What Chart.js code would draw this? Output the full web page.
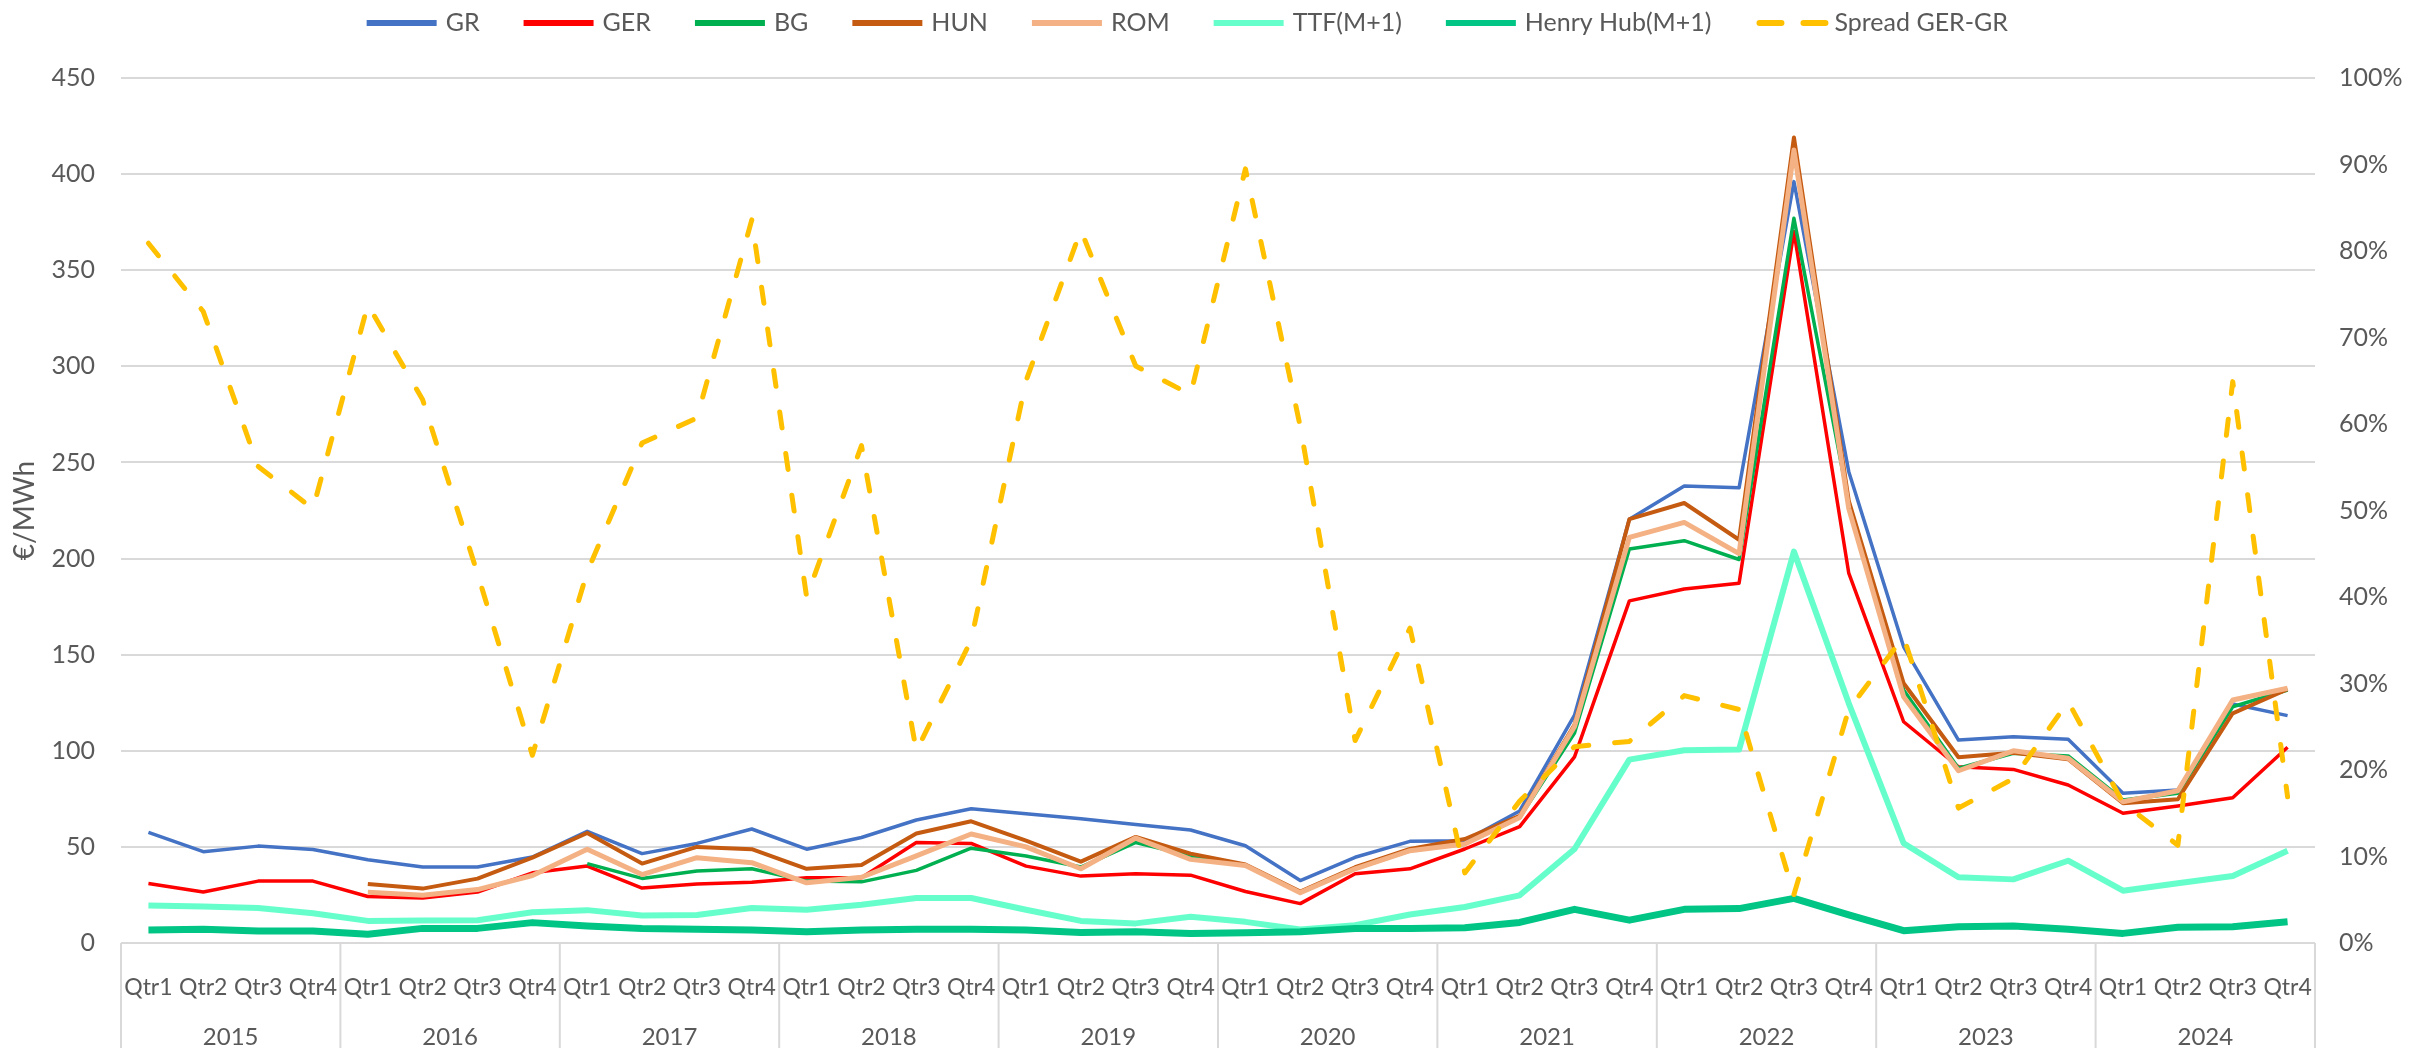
<!DOCTYPE html>
<html>
<head>
<meta charset="utf-8">
<script src="https://cdn.jsdelivr.net/npm/chart.js@4.4.0/dist/chart.umd.min.js"></script>
<style>
  html, body { margin: 0; padding: 0; background: #ffffff; }
</style>
</head>
<body>
<canvas id="gasChart" width="2433" height="1052"></canvas>
<script>
// quarter and year labels
var years = ['2015', '2016', '2017', '2018', '2019', '2020', '2021', '2022', '2023', '2024'];
var quarterNames = ['Qtr1', 'Qtr2', 'Qtr3', 'Qtr4'];

// prices in €/MWh, one value per quarter (null = no data yet)
var grPrices = [57.5, 47.5, 50.4, 48.6, 43.3, 39.5, 39.5, 44.7, 58.1, 46.5,
    51.8, 59.3, 48.8, 54.9, 64.0, 69.8, 67.2, 64.6, 61.6, 58.8,
    50.6, 32.5, 44.6, 52.9, 53.2, 68.7, 118.5, 220.5, 237.8, 236.8,
    396.1, 245.2, 154.1, 105.6, 107.3, 106.0, 77.9, 79.6, 124.3, 118.3];
var gerPrices = [30.9, 26.5, 32.2, 32.2, 24.2, 23.4, 26.5, 36.5, 40.0, 28.6,
    30.7, 31.6, 33.9, 33.9, 52.3, 51.8, 40.0, 34.8, 36.0, 35.3,
    26.8, 20.5, 36.0, 38.6, 48.9, 60.5, 96.8, 178.0, 184.2, 187.1,
    370.1, 192.4, 115.1, 91.7, 90.3, 82.2, 67.5, 71.3, 75.6, 101.8];
var bgPrices = [null, null, null, null, null, null, null, null, 41.3, 33.6,
    37.4, 38.6, 32.2, 31.8, 37.8, 49.3, 45.3, 39.5, 52.3, 45.3,
    40.3, 26.2, 38.6, 48.0, 51.5, 65.3, 109.2, 205.0, 209.3, 199.5,
    377.0, 229.0, 131.6, 90.9, 98.7, 97.3, 74.4, 77.9, 122.9, 131.6];
var hunPrices = [null, null, null, null, 30.7, 28.3, 33.5, 44.4, 57.2, 41.3,
    50.0, 48.8, 38.6, 40.6, 57.0, 63.3, 53.2, 42.3, 55.2, 46.5,
    40.8, 26.8, 39.4, 48.9, 54.1, 66.1, 113.5, 220.5, 228.9, 209.8,
    419.1, 230.0, 135.1, 96.6, 99.0, 95.6, 72.7, 74.8, 119.5, 132.0];
var romPrices = [null, null, null, null, 26.4, 24.8, 27.8, 35.1, 48.8, 35.6,
    44.4, 41.8, 31.3, 34.2, 45.3, 56.7, 50.0, 38.6, 54.6, 43.5,
    40.3, 26.2, 38.6, 48.0, 51.5, 65.3, 112.6, 211.0, 218.8, 202.6,
    412.5, 226.0, 128.1, 89.6, 100.0, 96.1, 73.5, 79.2, 126.4, 132.5];
var ttfPrices = [19.5, 19.0, 18.2, 15.5, 11.5, 11.7, 11.8, 16.0, 17.1, 14.3,
    14.6, 18.2, 17.3, 19.9, 23.4, 23.4, 17.3, 11.5, 10.2, 13.7,
    11.0, 7.0, 9.3, 14.8, 18.7, 24.8, 48.9, 95.4, 100.3, 100.6,
    203.6, 124.7, 51.9, 34.2, 33.1, 42.8, 27.2, 31.1, 34.9, 48.0];
var henryHubPrices = [6.8, 7.1, 6.3, 6.3, 4.5, 7.6, 7.6, 10.6, 8.8, 7.6,
    7.1, 6.8, 5.9, 6.8, 7.1, 7.1, 6.8, 5.4, 5.9, 5.0,
    5.3, 5.8, 7.5, 7.5, 7.9, 10.7, 17.5, 11.9, 17.5, 17.9,
    23.2, 14.6, 6.4, 8.5, 8.8, 7.1, 5.0, 8.2, 8.5, 11.1];
// spread GER-GR in percent (right axis)
var spreadPct = [80.9, 73.0, 55.1, 50.2, 73.8, 62.8, 42.7, 21.7, 42.9, 57.8,
    60.7, 83.6, 40.0, 57.5, 22.2, 35.0, 65.0, 82.4, 66.7, 63.4,
    89.5, 59.7, 23.4, 36.4, 8.1, 16.4, 22.7, 23.3, 28.6, 27.0,
    5.6, 27.0, 35.4, 15.6, 19.0, 27.9, 16.2, 11.3, 64.9, 16.9];

var categories = [];
years.forEach(function (y) {
    quarterNames.forEach(function (q) { categories.push(y + ' ' + q); });
});

var textColor = '#595959';
var gridColor = '#D9D9D9';
Chart.defaults.font.family = 'Lato';
Chart.defaults.font.size = 25;
Chart.defaults.color = textColor;

function series(label, data, color, width, extra) {
    var ds = {
        label: label,
        data: data,
        borderColor: color,
        backgroundColor: color,
        borderWidth: width,
        borderJoinStyle: 'round',
        pointRadius: 0,
        pointHoverRadius: 0,
        fill: false,
        tension: 0,
        yAxisID: 'y'
    };
    for (var k in extra) ds[k] = extra[k];
    return ds;
}

var datasets = [
    series('GR', grPrices, '#4472C4', 3.5),
    series('GER', gerPrices, '#FF0000', 3.5),
    series('BG', bgPrices, '#00B050', 3.5),
    series('HUN', hunPrices, '#C55A11', 4),
    series('ROM', romPrices, '#F4B183', 5),
    series('TTF(M+1)', ttfPrices, '#66FFCC', 6),
    series('Henry Hub(M+1)', henryHubPrices, '#00C585', 7),
    series('Spread GER-GR', spreadPct, '#FFC000', 5, {
        yAxisID: 'y1',
        borderDash: [16, 26],
        borderCapStyle: 'round'
    })
];
// later series are drawn on top, like the original
datasets.forEach(function (ds, i) { ds.order = -i; });

/* vertical separators between the years below the axis */
var yearDividers = {
    id: 'yearDividers',
    afterDraw: function (chart) {
        var ctx = chart.ctx;
        var xs = chart.scales.x;
        var area = chart.chartArea;
        var step = xs.getPixelForValue(1) - xs.getPixelForValue(0);
        ctx.save();
        ctx.strokeStyle = gridColor;
        ctx.lineWidth = 2;
        for (var k = 0; k <= years.length; k++) {
            var px = xs.getPixelForValue(k * 4) - step / 2;
            ctx.beginPath();
            ctx.moveTo(px, area.bottom);
            ctx.lineTo(px, chart.height - 4);
            ctx.stroke();
        }
        ctx.restore();
    }
};

/* legend drawn as short line samples, like the original */
var lineLegend = {
    id: 'lineLegend',
    afterDraw: function (chart) {
        var ctx = chart.ctx;
        var sample = 70, textGap = 9, itemGap = 44, y = 23;
        ctx.save();
        ctx.font = '25px Lato';
        var total = 0;
        var widths = chart.data.datasets.map(function (ds) {
            var w = sample + textGap + ctx.measureText(ds.label).width;
            total += w;
            return w;
        });
        total += itemGap * (widths.length - 1);
        var x = chart.width * 0.488 - total / 2;
        chart.data.datasets.forEach(function (ds, i) {
            ctx.beginPath();
            ctx.strokeStyle = ds.borderColor;
            ctx.lineWidth = 6;
            ctx.lineCap = ds.borderDash ? 'round' : 'butt';
            ctx.setLineDash(ds.borderDash ? [22, 22] : []);
            ctx.moveTo(x + (ds.borderDash ? 4 : 0), y);
            ctx.lineTo(x + sample, y);
            ctx.stroke();
            ctx.setLineDash([]);
            ctx.fillStyle = textColor;
            ctx.textBaseline = 'middle';
            ctx.textAlign = 'left';
            ctx.fillText(ds.label, x + sample + textGap, y);
            x += widths[i] + itemGap;
        });
        ctx.restore();
    }
};

var ctxGas = document.getElementById('gasChart');
var gasChart = new Chart(ctxGas, {
    type: 'line',
    data: {
        labels: categories,
        datasets: datasets
    },
    plugins: [yearDividers, lineLegend],
    options: {
        responsive: false,
        animation: false,
        devicePixelRatio: 1,
        layout: { padding: { top: 78, left: 0, right: 0, bottom: 0 } },
        plugins: {
            legend: { display: false },
            tooltip: { enabled: false }
        },
        scales: {
            x: {
                type: 'category',
                offset: true,
                weight: 0,
                grid: { display: false },
                border: { display: false },
                ticks: {
                    autoSkip: false,
                    maxRotation: 0,
                    minRotation: 0,
                    padding: 23,
                    font: { size: 23 },
                    callback: function (value) {
                        return this.getLabelForValue(value).split(' ')[1];
                    }
                },
                afterFit: function (scale) { scale.height = 62; }
            },
            x2: {
                type: 'category',
                labels: years,
                offset: true,
                weight: 1,
                position: 'bottom',
                grid: { display: false },
                border: { display: false },
                ticks: { autoSkip: false, maxRotation: 0, padding: 10, font: { size: 24 } },
                afterFit: function (scale) { scale.height = 47; }
            },
            y: {
                position: 'left',
                min: 0,
                max: 450,
                ticks: { stepSize: 50, padding: 26 },
                grid: { color: gridColor, lineWidth: 2, drawTicks: false },
                border: { display: false },
                title: {
                    display: true,
                    text: '€/MWh',
                    font: { size: 28 },
                    padding: { top: 8, bottom: 0 }
                },
                afterFit: function (scale) { scale.width = 121; }
            },
            y1: {
                position: 'right',
                min: 0,
                max: 100,
                ticks: {
                    stepSize: 10,
                    padding: 24,
                    callback: function (v) { return v + '%'; }
                },
                grid: { drawOnChartArea: false, drawTicks: false },
                border: { display: false },
                afterFit: function (scale) { scale.width = 118; }
            }
        }
    }
});
</script>
</body>
</html>
